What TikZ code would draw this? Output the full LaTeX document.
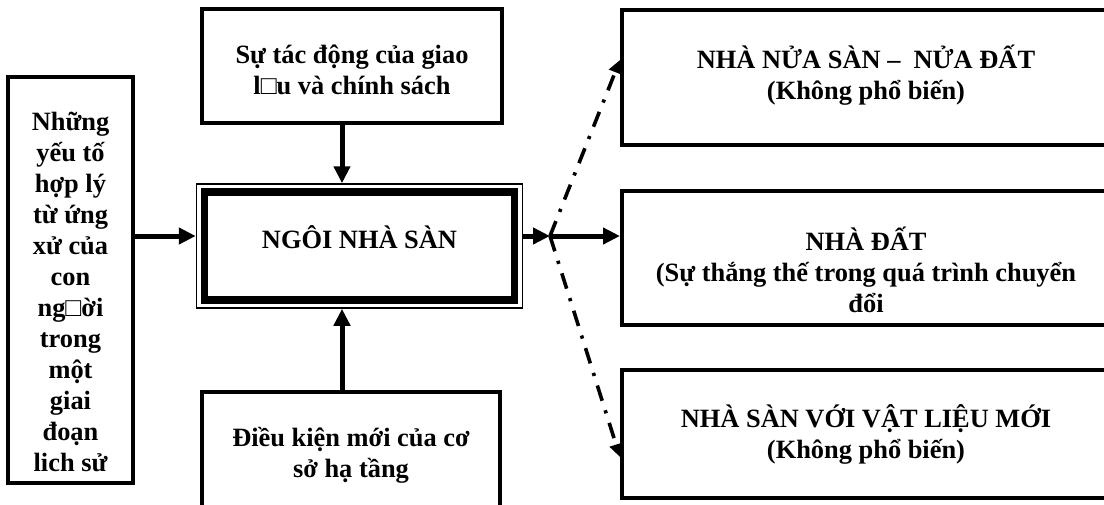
\documentclass[tikz,border=0pt]{standalone}
\usepackage{fontspec}
\setmainfont{Liberation Serif}
\usetikzlibrary{arrows.meta}

\begin{document}
\begin{tikzpicture}[
  x=0.5pt, y=-0.5pt,
  every node/.style={align=center, inner sep=0, font=\fontsize{13.2}{15.5}\selectfont\bfseries},
  box/.style={draw, line width=2pt},
  feed/.style={line width=2.5pt, -{Triangle[length=8.5pt,width=8pt]}},
  branch/.style={line width=1.8pt, dash pattern=on 8pt off 5pt on 1.6pt off 5pt,
    -{Triangle[length=6.5pt,width=6.5pt]}}
]
\useasboundingbox (0,0) rectangle (1104,504);

% left column
\node[box, minimum width=62.5pt, minimum height=203pt,
  label={[yshift=-6pt]center:{Những\\yếu tố\\hợp lý\\từ ứng\\xử của\\con\\ng□ời\\trong\\một\\giai\\đoạn\\lich sử}}]
  (yeuto) at (70.5,280) {};

% middle column
\node[box, minimum width=150pt, minimum height=57pt,
  label={[yshift=-2pt]center:{Sự tác động của giao\\l□u và chính sách}}]
  (giaoluu) at (352,66) {};
\node[draw, line width=0.75pt, minimum width=163pt, minimum height=62pt] (sanout) at (359.5,246) {};
\node[draw, line width=3.6pt, minimum width=155pt, minimum height=54pt,
  label={[yshift=4.5pt]center:{NGÔI NHÀ SÀN}}] (san) at (sanout) {};
\node[box, minimum width=149pt, minimum height=63pt,
  label={center:{Điều kiện mới của cơ\\sở hạ tầng}}]
  (hatang) at (351,455) {};

% right column
\node[box, minimum width=244pt, minimum height=67.5pt,
  label={[yshift=1.25pt]center:{NHÀ NỬA SÀN – \ NỬA ĐẤT\\(Không phổ biến)}}]
  (nuasan) at (866,77.5) {};
\node[box, minimum width=244pt, minimum height=67pt,
  label={[yshift=-6pt]center:{NHÀ ĐẤT\\(Sự thắng thế trong quá trình chuyển\\đổi}}]
  (nhadat) at (866,258) {};
\node[box, minimum width=244pt, minimum height=64pt,
  label={center:{NHÀ SÀN VỚI VẬT LIỆU MỚI\\(Không phổ biến)}}]
  (sanmoi) at (866,434) {};

\coordinate (fork) at (550,236);
\coordinate (axis) at (342,0);

% connectors
\draw[feed] (yeuto.east |- fork) -- (sanout.west |- fork);
\draw[feed] (giaoluu.south -| axis) -- (sanout.north -| axis);
\draw[feed] (hatang.north -| axis) -- (sanout.south -| axis);
\draw[feed] (sanout.east |- fork) -- (fork);
\draw[feed] (fork) -- (fork -| nhadat.west);
\draw[branch] (fork) -- ([yshift=8.75pt]nuasan.west);
\draw[branch] (fork) -- ([yshift=-11.5pt]sanmoi.west);
\end{tikzpicture}
\end{document}
